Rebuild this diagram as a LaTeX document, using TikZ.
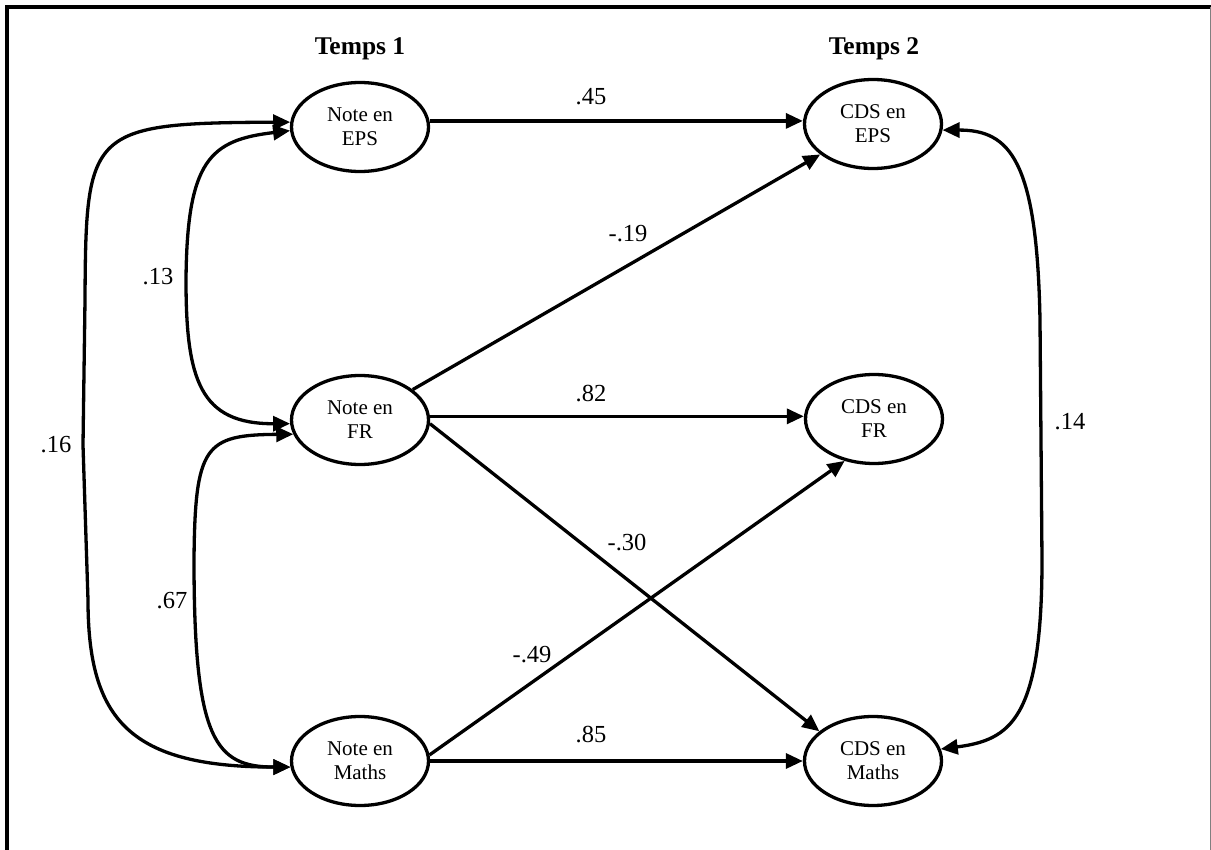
\documentclass[tikz,border=0pt]{standalone}
\usepackage{fontspec}
\setmainfont{Liberation Serif}
\usetikzlibrary{shapes.geometric,arrows.meta}
\begin{document}
\begin{tikzpicture}[x=1pt,y=-1pt,
  var/.style={ellipse, draw, line width=3.3pt, minimum width=137pt, minimum height=89pt, inner sep=0pt, align=center, font=\fontsize{21}{24}\selectfont},
  arr/.style={line width=3.3pt, -{Triangle[length=17pt,width=15pt]}},
  dbl/.style={line width=3.3pt, {Triangle[length=17pt,width=15pt]}-{Triangle[length=17pt,width=15pt]}},
  coef/.style={anchor=base, font=\fontsize{24.5}{28}\selectfont, inner sep=0pt},
  ttl/.style={anchor=base, font=\fontsize{25.5}{30}\selectfont\bfseries, inner sep=0pt}]
\useasboundingbox (0,0) rectangle (1211,850);
% frame
\draw[line width=3.3pt] (7,850) -- (7,7) -- (1211,7);
\draw[gray, line width=1pt] (1210,7) -- (1210,850);
% titles
\node[ttl] (t1) at (360,55) {Temps 1};
\node[ttl] (t2) at (874,55) {Temps 2};
% variables
\node[var] (neps) at (360,127) {Note en\\EPS};
\node[var] (nfr) at (360,420) {Note en\\FR};
\node[var] (nmath) at (360,761) {Note en\\Maths};
\node[var] (ceps) at (873,124) {CDS en\\EPS};
\node[var] (cfr) at (874,419) {CDS en\\FR};
\node[var] (cmath) at (873,761) {CDS en\\Maths};
% paths
\draw[arr] (neps.5) -- (ceps.west |- neps.5);
\draw[arr] (nfr.3) -- (cfr.west |- nfr.3);
\draw[arr] (nmath) -- (cmath);
\draw[arr] (nfr) -- (ceps);
\draw[arr] (nfr.-3) -- (cmath.151);
\draw[arr] (nmath.5) -- (cfr.235);
% correlations
\draw[dbl] (neps.176) .. controls (88,123) and (86,130) .. (85,300) -- (83,445) -- (88,600) .. controls (88,720) and (130,767) .. (nmath.185);
\draw[dbl] (neps.183) .. controls (210,140) and (187,160) .. (186,280) .. controls (186,380) and (200,424) .. (nfr.183);
\draw[dbl] (nfr.192) .. controls (205,435) and (195,445) .. (194,560) .. controls (194,740) and (215,767) .. (nmath.185);
\draw[dbl] (ceps.355) .. controls (1010,130) and (1037,160) .. (1040,320) -- (1042,560) .. controls (1042,720) and (1010,740) .. (cmath.10);
% coefficients
\node[coef] (c45) at (591,105) {.45};
\node[coef] (c19) at (628,242) {-.19};
\node[coef] (c82) at (591,402) {.82};
\node[coef] (c30) at (627,550) {-.30};
\node[coef] (c49) at (532,662) {-.49};
\node[coef] (c85) at (591,742) {.85};
\node[coef] (c13) at (158,285) {.13};
\node[coef] (c16) at (56,453) {.16};
\node[coef] (c67) at (172,608) {.67};
\node[coef] (c14) at (1070,430) {.14};
\end{tikzpicture}
\end{document}
